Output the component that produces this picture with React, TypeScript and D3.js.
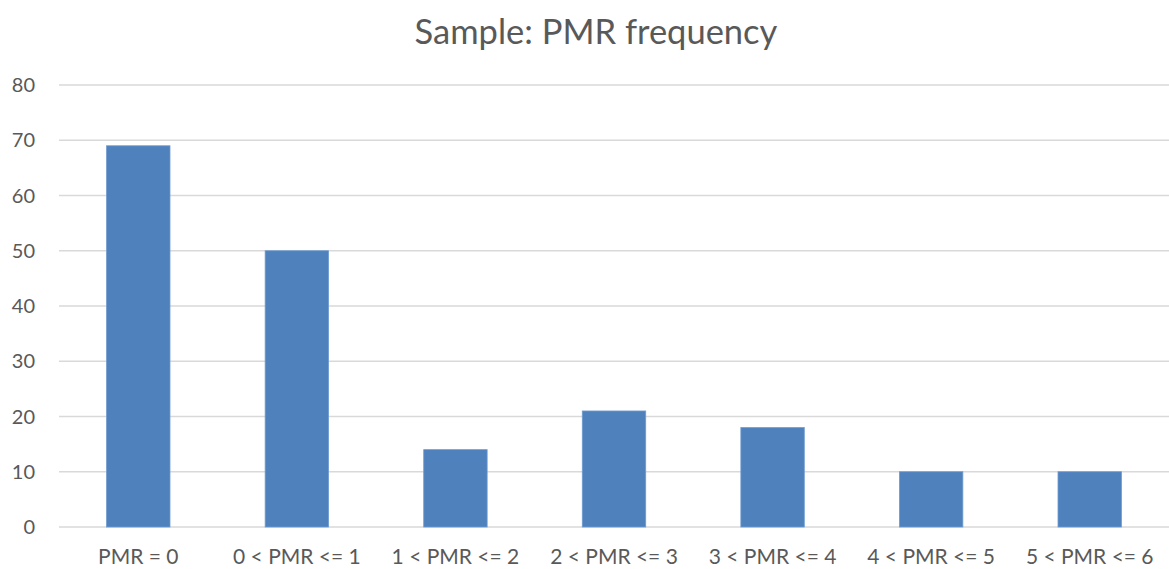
import React, { useEffect, useRef } from 'react';
import * as d3 from 'd3';

const categories = ['PMR = 0', '0 < PMR <= 1', '1 < PMR <= 2', '2 < PMR <= 3', '3 < PMR <= 4', '4 < PMR <= 5', '5 < PMR <= 6'];
const counts = [69, 50, 14, 21, 18, 10, 10];
const yTicks = [0, 10, 20, 30, 40, 50, 60, 70, 80];
const title = 'Sample: PMR frequency';

const App: React.FC = () => {
  const svgRef = useRef<SVGSVGElement>(null);

  useEffect(() => {
    if (!svgRef.current) return;
    const W = 1169, H = 569;
    const margin = { top: 85, right: 0, bottom: 42, left: 59 };
    const width = W - margin.left - margin.right;
    const height = H - margin.top - margin.bottom;

    d3.select(svgRef.current).selectAll('*').remove();
    const root = d3.select(svgRef.current).attr('width', W).attr('height', H);
    const font = 'Lato, "Open Sans", sans-serif';

    root.append('rect').attr('width', W).attr('height', H).attr('fill', '#fff');

    root.append('text')
      .attr('x', 596).attr('y', 44)
      .attr('text-anchor', 'middle')
      .attr('font-family', font).attr('font-size', 34.5)
      .attr('fill', '#595959')
      .text(title);

    const svg = root.append('g').attr('transform', `translate(${margin.left},${margin.top})`);

    const x = d3.scaleBand().domain(categories).range([0, width]).paddingInner(0.6).paddingOuter(0.3);
    const y = d3.scaleLinear().domain([0, 80]).range([height, 0]);

    // gridlines
    svg.selectAll('line.grid')
      .data(yTicks)
      .enter()
      .append('line')
      .attr('x1', 0).attr('x2', width)
      .attr('y1', d => y(d)).attr('y2', d => y(d))
      .attr('stroke', '#d9d9d9').attr('stroke-width', 1.3);

    // y labels
    svg.selectAll('text.ytick')
      .data(yTicks)
      .enter()
      .append('text')
      .attr('x', -24).attr('y', d => y(d))
      .attr('dy', '0.35em')
      .attr('text-anchor', 'end')
      .attr('font-family', font).attr('font-size', 20)
      .attr('fill', '#595959')
      .text(d => d);

    // bars
    svg.selectAll('rect.bar')
      .data(counts)
      .enter()
      .append('rect')
      .attr('x', (_, i) => x(categories[i]) || 0)
      .attr('y', d => y(d))
      .attr('width', x.bandwidth())
      .attr('height', d => height - y(d))
      .attr('fill', '#4F81BD')
      .attr('stroke', '#6f9bd0').attr('stroke-width', 0.8);

    // x labels
    svg.selectAll('text.xtick')
      .data(categories)
      .enter()
      .append('text')
      .attr('x', d => (x(d) || 0) + x.bandwidth() / 2)
      .attr('y', height + 37)
      .attr('text-anchor', 'middle')
      .attr('font-family', font).attr('font-size', 21)
      .attr('fill', '#595959')
      .text(d => d);
  }, []);

  return (
    <div style={{ position: 'absolute', left: 0, top: 0 }}>
      <svg ref={svgRef}></svg>
    </div>
  );
};

export default App;
